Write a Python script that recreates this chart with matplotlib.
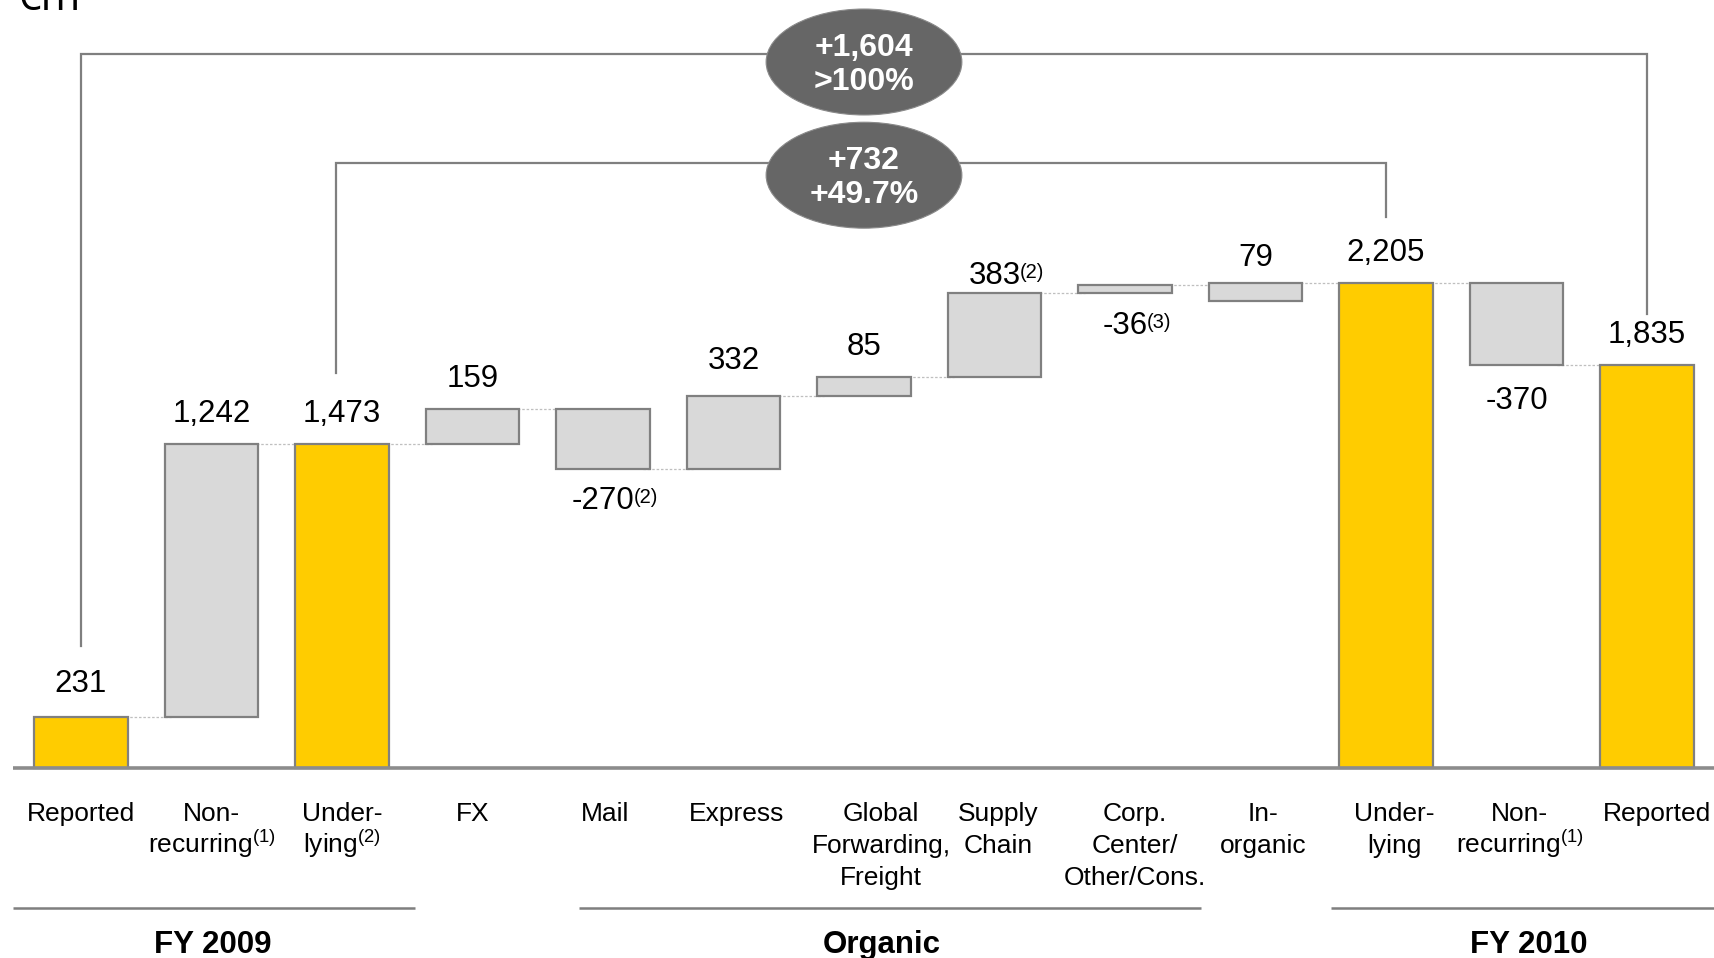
import matplotlib
matplotlib.use("Agg")
import matplotlib.pyplot as plt
from matplotlib.patches import Ellipse
from matplotlib.transforms import blended_transform_factory

plt.rcParams['font.family'] = ['Liberation Sans', 'DejaVu Sans']
plt.rcParams['mathtext.fontset'] = 'custom'
plt.rcParams['mathtext.rm'] = 'Liberation Sans'
plt.rcParams['mathtext.it'] = 'Liberation Sans'
plt.rcParams['mathtext.bf'] = 'Liberation Sans:bold'

# ---------------- data ----------------
cat_lines = [["Reported"], ["Non-", "recurring"], ["Under-", "lying"], ["FX"], ["Mail"],
             ["Express"], ["Global", "Forwarding,", "Freight"], ["Supply", "Chain"],
             ["Corp.", "Center/", "Other/Cons."], ["In-", "organic"], ["Under-", "lying"],
             ["Non-", "recurring"], ["Reported"]]
cat_notes = ["", "(1)", "(2)", "", "", "", "", "", "", "", "", "(1)", ""]
values = [231, 1242, 1473, 159, -270, 332, 85, 383, -36, 79, 2205, -370, 1835]
is_total = [True, False, True, False, False, False, False, False, False, False, True, False, True]
value_notes = ["", "", "", "", "(2)", "", "", "(2)", "(3)", "", "", "", ""]

groups = ["FY 2009", "Organic", "FY 2010"]
bracket_from = [0, 2]
bracket_to = [12, 10]
bracket_text = ["+1,604\n>100%", "+732\n+49.7%"]
unit_label = "€m"

# ---------------- style ----------------
GOLD = "#FFCC00"
LIGHT = "#D9D9D9"
EDGE = "#808080"
LINE = "#7F7F7F"

W, H = 1715, 958
fig = plt.figure(figsize=(W / 100, H / 100), dpi=100)
ax = fig.add_axes([0, 0, 1, 1])
ax.axis("off")

x0_px, step_px = 81, 130.5
base_px, scale = 768, 0.2198
ax.set_xlim(-x0_px / step_px, (W - x0_px) / step_px)
ax.set_ylim(-(H - base_px) / scale, base_px / scale)

tr_xpx = blended_transform_factory(ax.transData, ax.transAxes)


def ypx(y):
    return 1 - y / H


def xd(px):
    return (px - x0_px) / step_px


# the reference draws the Corp. Center bar upward from the running level
drawn_upward = [False] * 8 + [True] + [False] * 4

n = len(values)
xs = list(range(n))
bw = 0.72
bottoms, heights, ends, conn = [], [], [], []
level = 0
for i, (v, t) in enumerate(zip(values, is_total)):
    if t:
        bottoms.append(0); heights.append(v); level = v; conn.append(v)
    elif drawn_upward[i]:
        bottoms.append(level); heights.append(abs(v)); conn.append(level + abs(v)); level = level + v
    else:
        bottoms.append(level); heights.append(v); level = level + v; conn.append(level)
    ends.append(level)

for i in xs:
    ax.bar(i, heights[i], bottom=bottoms[i], width=bw,
           color=GOLD if is_total[i] else LIGHT, edgecolor=EDGE, linewidth=1.6, zorder=3)

# connectors
for i in range(n - 1):
    ax.plot([i + bw / 2 - 0.05, i + 1 - bw / 2 + 0.05], [conn[i], conn[i]],
            color="#BFBFBF", lw=0.9, ls=(0, (2, 1.5)), zorder=2)

# baseline
ax.plot([xd(13), xd(W)], [0, 0], color="#8C8C8C", lw=2.6, zorder=4, solid_capstyle="butt")


def fmt(v):
    return f"{v:,}" if v >= 0 else f"-{abs(v):,}"


# value labels (pixel offsets from bar edge to text baseline)
label_dy = [25, 22, 22, 22, -40, 27, 22, 9, -41, 17, 22, -44, 22]
for i in xs:
    v = values[i]
    top = max(bottoms[i], bottoms[i] + heights[i])
    bot = min(bottoms[i], bottoms[i] + heights[i])
    y = top if label_dy[i] > 0 else bot
    t = ax.annotate(fmt(v), xy=(i, y), xytext=(0, label_dy[i]), textcoords="offset pixels",
                    ha="center", va="baseline", fontsize=22.5, color="black", zorder=6)
    if value_notes[i]:
        ax.annotate(value_notes[i], xy=(1, 0.93), xycoords=t, xytext=(-1, 0),
                    textcoords="offset pixels", ha="left", va="top", fontsize=14.5, zorder=6)

# category labels
line_base = [821, 853, 885]
cat_dx = [0, 0, 0, 0, 2, 3, 17, 4, 10, 8, 8, 3, 10]
for i in xs:
    lines = cat_lines[i]
    for k, s in enumerate(lines):
        if k == len(lines) - 1 and cat_notes[i]:
            s = s + r"$^{\mathrm{" + cat_notes[i] + "}}$"
        ax.text(i + cat_dx[i] / step_px, ypx(line_base[k]), s, transform=tr_xpx,
                ha="center", va="baseline", fontsize=19, color="black")

# group lines and labels
group_spans = [(13, 415), (579, 1201), (1331, 1715)]
group_centers = [213, 882, 1529]
for g, (a, b), c in zip(groups, group_spans, group_centers):
    ax.plot([xd(a), xd(b)], [ypx(908)] * 2, transform=tr_xpx, color=LINE, lw=1.8,
            solid_capstyle="butt")
    ax.text(xd(c), ypx(953), g, transform=tr_xpx, ha="center", va="baseline",
            fontsize=22.5, fontweight="bold", color="black")

# brackets with ellipses
bracket_y = [3250, 2752]
ell_drop = [38, 55]
left_shift = [0.0, -0.045]
for a, b, txt, by, dr, ls in zip(bracket_from, bracket_to, bracket_text, bracket_y, ell_drop,
                                 left_shift):
    ya = values[a] + 325
    yb = values[b] + (300 if b != 12 else 231)
    ax.plot([a + ls, a + ls, b, b], [ya, by, by, yb], color=LINE, lw=1.6, zorder=2,
            solid_joinstyle="miter")
    cx = 6
    cy = by - dr
    ax.add_patch(Ellipse((cx, cy), 1.5, 482, facecolor="#666666", edgecolor="#8a8a8a",
                         lw=0.8, zorder=7))
    ax.annotate(txt, xy=(cx, cy), xytext=(0, -3), textcoords="offset pixels",
                ha="center", va="center", color="white", fontsize=23,
                fontweight="bold", linespacing=1.15, zorder=8)

# unit label (partly cut at the top, as in the reference)
fig.text(17 / W, ypx(10), unit_label, ha="left", va="baseline", fontsize=31,
         family=["Open Sans", "DejaVu Sans"])

fig.savefig("out.png", dpi=100)
